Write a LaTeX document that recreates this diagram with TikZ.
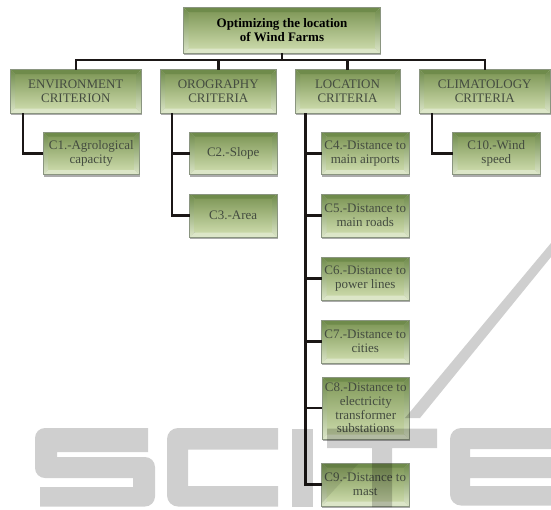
\documentclass[tikz,border=0pt]{standalone}
\usepackage{fontspec}
\setmainfont{Liberation Serif}
\usetikzlibrary{shadows,calc}
\definecolor{wm}{HTML}{CFCFCF}
\definecolor{facetop}{HTML}{839B5C}
\definecolor{facebot}{HTML}{C9D8A8}
\definecolor{bevtop}{HTML}{6F8B4B}
\definecolor{bevbot}{HTML}{DCE6C8}
\definecolor{bxedge}{HTML}{8A9580}
\definecolor{bxtext}{HTML}{444C40}
\definecolor{conn}{HTML}{1B1716}
\tikzset{
  bx/.style={draw=bxedge, line width=.8pt, inner sep=0pt, outer sep=0pt, align=center,
    text=bxtext, font=\fontsize{13}{13.7}\selectfont,
    general shadow={shadow xshift=.5pt, shadow yshift=-2.2pt, fill=black!55, opacity=.6},
    path picture={
      \coordinate (nw) at (path picture bounding box.north west);
      \coordinate (ne) at (path picture bounding box.north east);
      \coordinate (sw) at (path picture bounding box.south west);
      \coordinate (se) at (path picture bounding box.south east);
      \coordinate (inw) at ([xshift=5pt,yshift=-4.5pt]nw);
      \coordinate (ine) at ([xshift=-5pt,yshift=-4.5pt]ne);
      \coordinate (isw) at ([xshift=5pt,yshift=4.5pt]sw);
      \coordinate (ise) at ([xshift=-5pt,yshift=4.5pt]se);
      \shade[top color=facetop, bottom color=facebot] (inw) rectangle (ise);
      \fill[bevtop] (nw) -- (ne) -- (ine) -- (inw) -- cycle;
      \fill[bevbot] (sw) -- (se) -- (ise) -- (isw) -- cycle;
      \shade[top color=bevtop, bottom color=bevbot] (nw) -- (inw) -- (isw) -- (sw) -- cycle;
      \shade[top color=bevtop, bottom color=bevbot] (ne) -- (ine) -- (ise) -- (se) -- cycle;
    }},
  titlebx/.style={bx, text=black, font=\fontsize{13}{13.7}\selectfont\bfseries},
  link/.style={draw=conn, line width=2.5pt, line join=miter},
  wmark/.style={fill=wm, draw=none},
  wmsoft/.style={fill=black!9, draw=none}
}
\newcommand{\bbox}[7][bx]{%
  \pgfmathsetmacro{\cxx}{(#3+#5)/2}%
  \pgfmathsetmacro{\cyy}{(#4+#6)/2}%
  \pgfmathsetmacro{\ww}{#5-#3}%
  \pgfmathsetmacro{\hh}{#6-#4}%
  \node[#1, minimum width=\ww pt, minimum height=\hh pt] (#2) at (\cxx,\cyy) {#7};%
}
\begin{document}
\begin{tikzpicture}[x=1pt,y=-1pt]
\useasboundingbox (0,0) rectangle (551,509);
\coordinate (bus) at (282,60);
\coordinate (envt) at (23,113);
\coordinate (orot) at (172,113);
\coordinate (loct) at (305.5,113);
\coordinate (clit) at (432,113);
\bbox[titlebx]{root}{183.5}{7.5}{380.5}{53}{Optimizing the location\\of Wind Farms}
\bbox{env}{10}{69.5}{141.5}{113}{ENVIRONMENT\\CRITERION}
\bbox{oro}{160}{69.5}{276.5}{113}{OROGRAPHY\\CRITERIA}
\bbox{loc}{295}{69.5}{400}{113}{LOCATION\\CRITERIA}
\bbox{cli}{419}{69.5}{550.5}{113}{CLIMATOLOGY\\CRITERIA}
\bbox{c1}{43}{132}{139.5}{174.5}{C1.-Agrological\\capacity}
\bbox{c2}{189.5}{132}{277}{174.5}{C2.-Slope}
\bbox{c3}{189.5}{194}{277}{237}{C3.-Area}
\bbox{c4}{321.5}{132}{409}{174.5}{C4.-Distance to\\main airports}
\bbox{c5}{321.5}{194}{409}{237}{C5.-Distance to\\main roads}
\bbox{c6}{321.5}{257}{409}{300}{C6.-Distance to\\power lines}
\bbox{c7}{321.5}{320}{409}{363}{C7.-Distance to\\cities}
\bbox{c8}{322}{377}{409.5}{439}{C8.-Distance to\\electricity\\transformer\\substations}
\bbox{c9}{321.5}{463}{409}{506}{C9.-Distance to\\mast}
\bbox{c10}{452.5}{132}{540}{174.5}{C10.-Wind\\speed}
\draw[link] (root.south) -- (bus);
\draw[link] (env.north) |- (bus) -| (cli.north);
\draw[link] (oro.north) -- (oro.north |- bus);
\draw[link] (loc.north) -- (loc.north |- bus);
\draw[link] (envt) |- (c1.west);
\draw[link] (orot) |- (c3.west);
\draw[link] (c2.west) -- (c2.west -| orot);
\draw[link] (loct) |- (c9.west);
\foreach \n in {c4,c5,c6,c7,c8} \draw[link] (\n.west) -- (\n.west -| loct);
\draw[link] (clit) |- (c10.west);
\begin{scope}[blend mode=multiply]
\fill[wmark] (148,428) [rounded corners=10pt] -- (35,428) -- (35,478) [sharp corners] -- (133,478) -- (133,487) -- (40,487) -- (40,506.5) [rounded corners=10pt] -- (155,506.5) -- (155,457) [sharp corners] -- (57,457) -- (57,452) -- (148,452) -- cycle;
\fill[wmark] (278,428) [rounded corners=11pt] -- (167,428) -- (167,506.5) [sharp corners] -- (278,506.5) -- (278,486) -- (188,486) -- (188,449.5) -- (278,449.5) -- cycle;
\fill[wmark] (292,428.5) rectangle (313,507);
\fill[wmark] (327,428.5) -- (437,428.5) -- (437,448) -- (392,448) -- (392,507) -- (372,507) -- (372,448) -- (327,448) -- cycle;
\fill[wmark] (551,428) [rounded corners=11pt] -- (450,428) -- (450,505.5) [sharp corners] -- (551,505.5) -- (551,486) -- (470,486) -- (470,478) -- (551,478) -- (551,457) -- (470,457) -- (470,449) -- (551,449) -- cycle;
\fill[wmark] (551,243) -- (551,257) -- (420,418) -- (405,418) -- cycle;
\fill[wmsoft] (322,464) -- (358,464) -- (322,503) -- cycle;
\end{scope}
\end{tikzpicture}
\end{document}
